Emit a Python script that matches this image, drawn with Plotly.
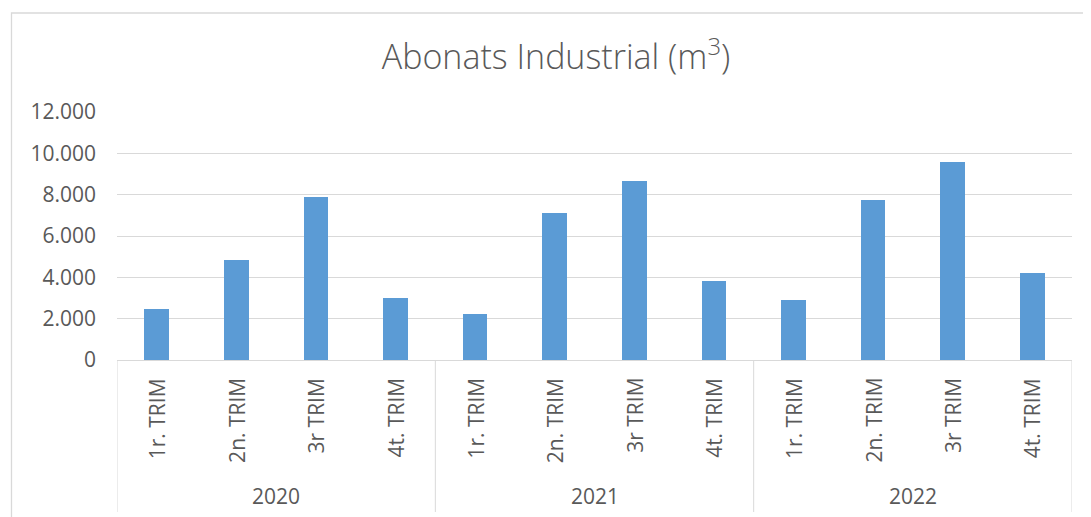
import plotly.graph_objects as go

years = ["2020", "2021", "2022"]
quarters = ["1r. TRIM", "2n. TRIM", "3r TRIM", "4t. TRIM"]
values_2020 = [2450, 4830, 7880, 2980]
values_2021 = [2220, 7120, 8680, 3820]
values_2022 = [2900, 7760, 9600, 4200]
y_ticks = [0, 2000, 4000, 6000, 8000, 10000, 12000]

all_values = values_2020 + values_2021 + values_2022
labels = [q for _ in years for q in quarters]
xpos = list(range(len(all_values)))

# page body has an 8px default margin; work in reference pixel coords and shift
OFF = 8
W, H = 1091 - OFF, 517 - OFF
L, R, T, B = 117 - OFF, 19, 112 - OFF, 157
ph = H - T - B
pw = W - L - R

def py(pix):
    return (H - B - (pix - OFF)) / ph

def px(pix):
    return ((pix - OFF) - L) / pw

TXT = "#595959"
GRID = "#d9d9d9"
FONT = "Open Sans"

fig = go.Figure()
fig.add_trace(go.Bar(
    x=xpos, y=all_values, width=0.31,
    marker=dict(color="#5B9BD5", line=dict(width=0)),
    hovertext=labels,
))

annotations = []
for i, lab in enumerate(labels):
    annotations.append(dict(
        x=i, y=py(376), xref="x", yref="paper", text=lab, showarrow=False,
        textangle=-90, xanchor="center", yanchor="top",
        font=dict(family=FONT, size=21, color=TXT),
    ))
nq = len(quarters)
for j, yr in enumerate(years):
    annotations.append(dict(
        x=j * nq + (nq - 1) / 2, y=py(496), xref="x", yref="paper", text=yr,
        showarrow=False, xanchor="center", yanchor="middle",
        font=dict(family=FONT, size=21, color=TXT),
    ))

shapes = []
for j in range(len(years) + 1):
    xv = j * nq - 0.5
    shapes.append(dict(type="line", xref="x", yref="paper", x0=xv, x1=xv,
                       y0=0, y1=py(512), line=dict(color=GRID, width=1)))
shapes.append(dict(type="rect", xref="paper", yref="paper",
                   x0=px(11.5), x1=px(1110), y0=py(13), y1=py(540),
                   line=dict(color=GRID, width=1.3), layer="below"))

fig.update_layout(
    width=W, height=H,
    margin=dict(l=L, r=R, t=T, b=B, pad=0),
    paper_bgcolor="white", plot_bgcolor="white",
    separators=",.",
    showlegend=False,
    title=dict(text="Abonats Industrial (m<sup>3</sup>)", xref="container", yref="container",
               x=(556 - OFF) / W, y=1 - (57 - OFF) / H, xanchor="center", yanchor="middle",
               font=dict(family=FONT, size=34, color=TXT, weight=300)),
    xaxis=dict(range=[-0.5, len(all_values) - 0.5], showticklabels=False,
               showgrid=False, zeroline=False, showline=True, linecolor=GRID,
               linewidth=1, ticks=""),
    yaxis=dict(range=[0, 12000], tickvals=y_ticks, tickformat=",",
               showgrid=True, gridcolor=GRID, gridwidth=1, zeroline=False,
               showline=False, ticks="", ticklabelstandoff=20,
               tickfont=dict(family=FONT, size=21, color=TXT)),
    annotations=annotations,
    shapes=shapes,
    bargap=0,
)

fig.write_html("out.html")
